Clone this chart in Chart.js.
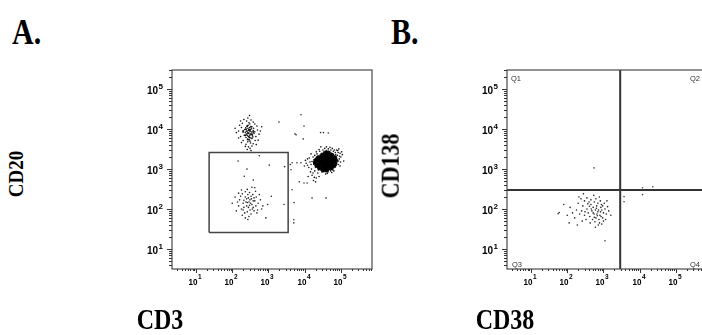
<!DOCTYPE html>
<html>
<head>
<meta charset="utf-8">
<script src="https://cdn.jsdelivr.net/npm/chart.js@4.4.0/dist/chart.umd.min.js"></script>
<style>
  body { margin: 0; background: #fff; }
  #page { position: relative; width: 702px; height: 335px; overflow: hidden; background: #fff; }
  canvas { position: absolute; }
  .lbl { position: absolute; font-family: "Liberation Serif", "Times New Roman", serif; font-weight: bold; color: #000; white-space: nowrap; line-height: 1; }
  .rot { transform: translate(-50%, -50%) rotate(-90deg) scaleY(1.1); }
  .mid { transform: translateX(-50%) scaleY(1.25); transform-origin: 50% 0; }
  .big { transform: scaleY(1.2); transform-origin: 0 0; }
</style>
</head>
<body>
<div id="page">
  <canvas id="chartA" width="285" height="250" style="left:100px; top:55px"></canvas>
  <canvas id="chartB" width="285" height="250" style="left:435px; top:55px"></canvas>
  <div class="lbl big" style="left:12px; top:14px; font-size:30px">A.</div>
  <div class="lbl big" style="left:391px; top:14px; font-size:30px">B.</div>
  <div class="lbl rot" style="left:16px; top:174px; font-size:19px">CD20</div>
  <div class="lbl rot" style="left:391px; top:166px; font-size:22px">CD138</div>
  <div class="lbl mid" style="left:160px; top:304px; font-size:24px">CD3</div>
  <div class="lbl mid" style="left:505px; top:304px; font-size:24px">CD38</div>
</div>
<script>
// axis limits (fluorescence units, log display)
const xMin = 2.17;
const xMax = 724000;
const yMin = 3.16;
const yMax = 302000;
const decadeLabels = [1, 2, 3, 4, 5];

// panel A: CD3 (x) vs CD20 (y)
const cd20PosCluster = [
  [290, 8000], [310, 7200], [260, 9000], [340, 8500], [280, 6500], [250, 7500], [320, 9800], [300, 11000],
  [270, 10500], [360, 7000], [230, 8200], [330, 6000], [295, 5400], [240, 6200], [380, 9200], [275, 12500],
  [350, 11500], [220, 9800], [310, 5000], [265, 5600], [400, 7800], [255, 11800], [285, 9300], [325, 7600],
  [245, 8800], [370, 6400], [305, 13500], [215, 7000], [340, 10200], [280, 7800], [300, 6800], [260, 6900],
  [350, 5800], [235, 10800], [390, 10500], [270, 4800], [320, 4500], [290, 14500], [420, 8600], [200, 8400],
  [180, 11000], [150, 9000], [170, 6500], [190, 14000], [160, 12500], [450, 6500], [500, 9500], [480, 12000],
  [550, 7500], [430, 5200], [200, 5200], [180, 4600], [240, 4200], [380, 4300], [460, 4100], [250, 16000],
  [330, 17000], [210, 17500], [380, 15000], [270, 19000], [300, 22000], [150, 6000], [130, 8200], [600, 9000],
  [520, 5300], [280, 3600], [310, 3300], [260, 3100], [350, 3800], [330, 2900], [230, 3700], [420, 13500],
  [120, 10500], [650, 11500], [170, 16000],
];

const cd20Dense = [
  [270, 8000], [310, 9000], [350, 7500], [240, 10000], [230, 7000], [300, 6200], [270, 5500], [380, 8500],
  [260, 12000], [330, 11500], [200, 9000], [290, 9800],
];

const gatedCluster = [
  [290, 150], [250, 120], [340, 180], [200, 140], [380, 110], [310, 95], [230, 200], [420, 160],
  [180, 100], [270, 230], [350, 130], [160, 170], [460, 200], [300, 260], [220, 80], [400, 90],
  [260, 310], [190, 240], [520, 140], [150, 120], [330, 75], [280, 190], [240, 150], [450, 120],
  [130, 90], [370, 230], [210, 110], [600, 170], [290, 65], [170, 210], [500, 95], [320, 140],
  [140, 150], [260, 85], [230, 270], [400, 190], [350, 350], [190, 70], [700, 120], [120, 200],
  [280, 110], [440, 280], [250, 180], [100, 140], [560, 230], [310, 170], [180, 300], [380, 160],
  [230, 60], [480, 80], [300, 125], [210, 165], [650, 100], [270, 55], [360, 100], [150, 250],
  [420, 340], [200, 95], [330, 210], [260, 145], [950, 130], [1200, 210], [850, 60],
  [145, 1600], [1050, 1260], [255, 1000], [560, 2150], [215, 660], [380, 530],
];

const tCellCore = [
  [38000, 2500], [45000, 2500],
  [31000, 2200], [35000, 2200], [40000, 2200], [45000, 2200], [50000, 2200], [56000, 2200],
  [24000, 1900], [28000, 1900], [33000, 1900], [38000, 1900], [43000, 1900], [48000, 1900], [54000, 1900], [60000, 1900], [67000, 1900],
  [21000, 1650], [25000, 1650], [29000, 1650], [34000, 1650], [39000, 1650], [44000, 1650], [50000, 1650], [56000, 1650], [63000, 1650], [70000, 1650],
  [20000, 1450], [24000, 1450], [28000, 1450], [33000, 1450], [38000, 1450], [43000, 1450], [48000, 1450], [54000, 1450], [61000, 1450], [68000, 1450],
  [22000, 1250], [26000, 1250], [31000, 1250], [36000, 1250], [41000, 1250], [46000, 1250], [52000, 1250], [58000, 1250], [64000, 1250],
  [26000, 1080], [30000, 1080], [36000, 1080], [42000, 1080], [48000, 1080], [54000, 1080],
  [33000, 960], [40000, 960],
];

const tCellHalo = [
  [15000, 1300], [18000, 1700], [20000, 1100], [17000, 2000], [22000, 2400], [14000, 1500], [12000, 1800], [19000, 900],
  [23000, 800], [16000, 700], [21000, 600], [13000, 1100], [26000, 2800], [32000, 3000], [40000, 2900], [48000, 2700],
  [58000, 3300], [70000, 2600], [80000, 2200], [90000, 1800], [75000, 1500], [85000, 1300], [95000, 2500], [68000, 1100],
  [60000, 950], [52000, 900], [44000, 850], [36000, 900], [28000, 950], [11000, 1400], [24000, 2100], [30000, 2500],
  [62000, 2100], [72000, 1900], [78000, 1700], [100000, 2000], [110000, 2300], [66000, 3000], [45000, 3200], [35000, 2700],
  [27000, 1200], [22000, 1500], [18000, 1300], [55000, 2500], [82000, 2900], [25000, 650], [17500, 520], [20000, 480],
  [14500, 850], [12500, 650], [9800, 1200], [28000, 3600], [50000, 3500], [38000, 750], [47000, 1000], [95000, 1200],
  [120000, 1600], [105000, 2700], [88000, 3200], [33000, 1800],
  [16000, 1550], [13500, 1900], [15500, 1000], [19000, 2200], [21000, 2700], [17000, 800], [24000, 950], [18500, 620],
  [30000, 850], [42000, 780], [56000, 820], [64000, 900], [74000, 1250], [86000, 1600], [92000, 2100], [84000, 2600],
  [76000, 3000], [62000, 2800], [53000, 3000], [36000, 3300], [25000, 3100], [12000, 1250], [10500, 1650], [20500, 1900],
  [27000, 2300], [72000, 2300], [98000, 1500], [66000, 1350], [15000, 2400], [40000, 3600],
];

const scatterA = [
  [7900, 23000], [1950, 15000], [5400, 7600], [9100, 5700], [9600, 12000], [27500, 8200], [33000, 8200], [45000, 8000],
  [5800, 7200], [2800, 1150], [4500, 1440], [6100, 1440], [7900, 1440], [4200, 960], [4000, 1300], [7100, 480],
  [9600, 450], [11700, 450], [4500, 305], [16000, 190], [39000, 190], [5100, 145], [5000, 54], [5000, 45], [2700, 130],
];

const gateCD3 = [23, 3500];
const gateCD20 = [26, 2600];

// panel B: CD38 (x) vs CD138 (y), gated events
const plasmaCluster = [
  [550, 75], [620, 60], [480, 90], [700, 85], [800, 70], [900, 95], [420, 65], [520, 110],
  [650, 120], [750, 55], [1000, 80], [580, 48], [380, 80], [850, 110], [950, 60], [450, 130],
  [700, 140], [600, 95], [1100, 100], [350, 100], [300, 70], [250, 90], [400, 150], [500, 55],
  [780, 45], [680, 68], [880, 130], [1200, 75], [1300, 115], [330, 55], [270, 120], [220, 75],
  [200, 140], [180, 95], [160, 60], [300, 160], [240, 180], [210, 200], [350, 190], [450, 170],
  [560, 150], [620, 180], [820, 160], [1050, 140], [1400, 90], [1000, 50], [720, 40], [430, 45],
  [260, 50], [190, 40], [600, 35], [900, 42], [120, 110], [140, 80], [100, 70], [60, 82],
  [80, 130], [1150, 55], [950, 120], [520, 80], [460, 100], [640, 105], [730, 95], [830, 85],
  [560, 62], [410, 118], [370, 135], [310, 85], [1600, 70], [1250, 160], [770, 200], [540, 220],
  [280, 240], [660, 75], [860, 65], [56, 76], [113, 45],
];

const scatterB = [
  [550, 1070], [1100, 16], [3700, 205], [3700, 152], [2900, 96], [12000, 340], [12000, 230], [23000, 360],
];

const cd38Cut = 2900;
const cd138Cut = 300;
const quadrantNames = ["Q1", "Q2", "Q3", "Q4"];

function toPoints(list) {
  return list.map(([x, y]) => ({ x, y }));
}

function dots(list, color, radius) {
  return {
    data: toPoints(list),
    backgroundColor: color,
    borderColor: color,
    pointRadius: radius,
    pointHoverRadius: radius,
    pointBorderWidth: 0,
  };
}

function segment(points, color, width) {
  return {
    data: points,
    showLine: true,
    borderColor: color,
    borderWidth: width,
    pointRadius: 0,
    fill: false,
    tension: 0,
  };
}

function logTicks(min, max) {
  const ticks = [];
  for (let n = Math.floor(Math.log10(min)); n <= Math.ceil(Math.log10(max)); n++) {
    for (let k = 1; k <= 9; k++) {
      const v = k * Math.pow(10, n);
      if (v >= min && v <= max) ticks.push({ value: v, major: k === 1 });
    }
  }
  return ticks;
}

function drawPower(ctx, x, y, exp, axis) {
  ctx.fillStyle = "#000";
  if (axis === "x") {
    ctx.save();
    ctx.translate(x + 1, y);
    ctx.scale(0.85, 1.05);
    ctx.font = "bold 9.5px 'Liberation Sans', Arial, sans-serif";
    ctx.textAlign = "right";
    ctx.fillText("10", 0, 0);
    ctx.restore();
    ctx.font = "bold 6.5px 'Liberation Sans', Arial, sans-serif";
    ctx.textAlign = "left";
    ctx.fillText(String(exp), x + 1.5, y - 6);
  } else {
    ctx.font = "bold 10px 'Liberation Sans', Arial, sans-serif";
    ctx.textAlign = "right";
    ctx.fillText("10", x - 14, y + 4.5);
    ctx.font = "bold 8px 'Liberation Sans', Arial, sans-serif";
    ctx.textAlign = "left";
    ctx.fillText(String(exp), x - 13.5, y - 1);
  }
}

const frameAndTicks = {
  id: "frameAndTicks",
  afterDatasetsDraw(chart) {
    const { ctx, chartArea: a, scales } = chart;
    ctx.save();
    ctx.strokeStyle = "#4a4a4a";
    ctx.lineWidth = 1.2;
    ctx.strokeRect(a.left, a.top, a.right - a.left, a.bottom - a.top);

    ctx.strokeStyle = "#333";
    ctx.lineWidth = 1;
    ctx.textBaseline = "alphabetic";
    scales.x.ticks.forEach((t) => {
      const px = Math.round(scales.x.getPixelForValue(t.value)) + 0.5;
      ctx.beginPath();
      ctx.moveTo(px, a.bottom);
      ctx.lineTo(px, a.bottom + (t.major ? 4 : 2));
      ctx.stroke();
      const exp = Math.round(Math.log10(t.value));
      if (t.major && decadeLabels.includes(exp)) drawPower(ctx, px, a.bottom + 16, exp, "x");
    });
    scales.y.ticks.forEach((t) => {
      const py = Math.round(scales.y.getPixelForValue(t.value)) + 0.5;
      ctx.beginPath();
      ctx.moveTo(a.left, py);
      ctx.lineTo(a.left - (t.major ? 5 : 3), py);
      ctx.stroke();
      const exp = Math.round(Math.log10(t.value));
      if (t.major && decadeLabels.includes(exp)) drawPower(ctx, a.left, py, exp, "y");
    });

    if (chart.options.plugins.quadrants) {
      ctx.fillStyle = "#333";
      ctx.font = "7.5px 'Liberation Sans', Arial, sans-serif";
      ctx.textAlign = "left";
      ctx.fillText(quadrantNames[0], a.left + 4, a.top + 11);
      ctx.fillText(quadrantNames[1], a.right - 17, a.top + 11);
      ctx.fillText(quadrantNames[2], a.left + 5, a.bottom - 2);
      ctx.fillText(quadrantNames[3], a.right - 17, a.bottom - 2);
    }
    ctx.restore();
  },
};

function makeChart(canvasId, datasets, quadrants) {
  const axis = (fit) => ({
    type: "logarithmic",
    grid: { display: false },
    border: { display: false },
    ticks: { display: false },
    afterBuildTicks: (scale) => {
      scale.ticks = logTicks(scale.min, scale.max);
    },
    afterFit: fit,
  });
  return new Chart(document.getElementById(canvasId), {
    type: "scatter",
    data: { datasets },
    options: {
      responsive: false,
      animation: false,
      devicePixelRatio: 1,
      layout: { padding: { top: 15, right: 13, left: 0, bottom: 0 } },
      plugins: { legend: { display: false }, tooltip: { enabled: false }, quadrants },
      scales: {
        x: { ...axis((s) => { s.height = 36; }), min: xMin, max: xMax },
        y: { ...axis((s) => { s.width = 72; }), min: yMin, max: yMax },
      },
    },
    plugins: [frameAndTicks],
  });
}

const gateBox = [
  { x: gateCD3[0], y: gateCD20[0] },
  { x: gateCD3[0], y: gateCD20[1] },
  { x: gateCD3[1], y: gateCD20[1] },
  { x: gateCD3[1], y: gateCD20[0] },
  { x: gateCD3[0], y: gateCD20[0] },
];

makeChart("chartA", [
  dots(cd20PosCluster, "#111", 0.8),
  dots(cd20Dense, "#111", 1.0),
  dots(gatedCluster, "#222", 0.8),
  dots(tCellHalo, "#111", 0.8),
  dots(tCellCore, "#000", 2.6),
  dots(scatterA, "#333", 0.8),
  segment(gateBox, "#444", 1.5),
], false);

makeChart("chartB", [
  dots(plasmaCluster, "#222", 0.8),
  dots(scatterB, "#444", 0.8),
  segment([{ x: cd38Cut, y: yMin }, { x: cd38Cut, y: yMax }], "#333", 2),
  segment([{ x: xMin, y: cd138Cut }, { x: xMax, y: cd138Cut }], "#333", 2),
], true);
</script>
</body>
</html>
